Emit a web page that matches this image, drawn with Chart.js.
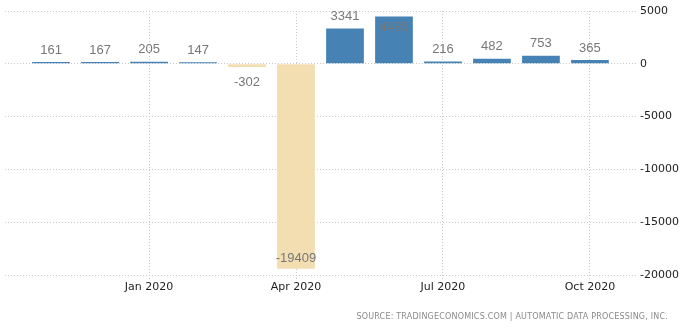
<!DOCTYPE html>
<html>
<head>
<meta charset="utf-8">
<script src="https://cdn.jsdelivr.net/npm/chart.js@4/dist/chart.umd.min.js"></script>
<style>
  body { margin: 0; background: #fff; }
  #wrap { position: relative; width: 681px; height: 328px; }
  #source {
    position: absolute; right: 13px; top: 312px;
    font: 8px "DejaVu Sans", sans-serif; color: #8a8a8a; letter-spacing: 0.2px;
  }
</style>
</head>
<body>
<div id="wrap">
  <canvas id="payrollChart" width="681" height="328"></canvas>
  <div id="source">SOURCE: TRADINGECONOMICS.COM | AUTOMATIC DATA PROCESSING, INC.</div>
</div>
<script>
// ADP employment change, Nov 2019 - Oct 2020 (thousands)
const months = ["Nov 2019", "Dec 2019", "Jan 2020", "Feb 2020", "Mar 2020", "Apr 2020",
                "May 2020", "Jun 2020", "Jul 2020", "Aug 2020", "Sep 2020", "Oct 2020"];
const payrolls = [161, 167, 205, 147, -302, -19409, 3341, 4485, 216, 482, 753, 365];
const shownMonths = [2, 5, 8, 11];
const yTicks = [5000, 0, -5000, -10000, -15000, -20000];

const upColor = "#4682b4";
const downColor = "#f3deb2";
const gridColor = "#c9c9c9";

const valueLabels = {
  id: "valueLabels",
  afterDatasetsDraw(chart) {
    const { ctx, chartArea } = chart;
    const meta = chart.getDatasetMeta(0);
    ctx.save();
    ctx.font = '13px "Liberation Sans Narrow", "Liberation Sans", sans-serif';
    ctx.fillStyle = "#777";
    ctx.textAlign = "center";
    ctx.textBaseline = "middle";
    meta.data.forEach((bar, i) => {
      const v = payrolls[i];
      let y;
      if (v >= 0) {
        y = bar.y - 12;
        if (y < chartArea.top) y = bar.y + 11;
      } else {
        y = bar.y + 15;
        if (y > chartArea.bottom) y = bar.y - 10;
      }
      ctx.fillText(String(v), bar.x, y);
    });
    ctx.restore();
  }
};

new Chart(document.getElementById("payrollChart"), {
  type: "bar",
  data: {
    datasets: [{
      data: payrolls.map((v, i) => ({ x: i, y: v })),
      backgroundColor: payrolls.map(v => v >= 0 ? upColor : downColor),
      categoryPercentage: 1,
      barPercentage: 0.77
    }]
  },
  options: {
    responsive: false,
    animation: false,
    devicePixelRatio: 1,
    layout: { padding: { left: 5, top: 11, right: 0, bottom: 33 } },
    plugins: { legend: { display: false }, tooltip: { enabled: false } },
    scales: {
      x: {
        type: "linear",
        offset: false,
        min: -0.94,
        max: 11.94,
        afterBuildTicks: scale => { scale.ticks = shownMonths.map(v => ({ value: v })); },
        afterFit: scale => { scale.height = 20; },
        ticks: {
          callback: v => months[v],
          autoSkip: false,
          maxRotation: 0,
          padding: 2,
          color: "#222",
          font: { family: "DejaVu Sans", size: 11 }
        },
        grid: { offset: false, color: gridColor, tickLength: 4, tickBorderDash: [1, 2] },
        border: { display: false, dash: [1, 2] }
      },
      y: {
        position: "right",
        min: -20000,
        max: 5000,
        afterBuildTicks: scale => { scale.ticks = yTicks.map(v => ({ value: v })); },
        afterFit: scale => { scale.width = 45; },
        ticks: {
          callback: v => String(v),
          padding: 4,
          color: "#222",
          font: { family: "DejaVu Sans", size: 11 }
        },
        grid: { color: gridColor, drawTicks: false },
        border: { display: false, dash: [1, 2] }
      }
    }
  },
  plugins: [valueLabels]
});
</script>
</body>
</html>
